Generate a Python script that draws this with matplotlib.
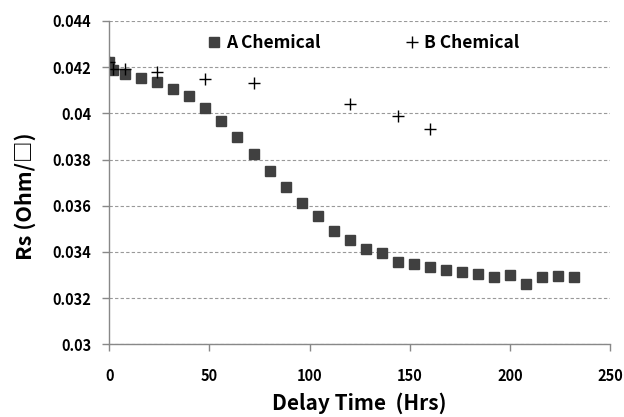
import matplotlib
matplotlib.use("Agg")
import matplotlib.pyplot as plt

plt.rcParams['font.family'] = ['Noto Sans CJK KR', 'DejaVu Sans']

# A Chemical (squares)
a_time = [0, 2, 8, 16, 24, 32, 40, 48, 56, 64, 72, 80, 88, 96, 104, 112, 120, 128,
          136, 144, 152, 160, 168, 176, 184, 192, 200, 208, 216, 224, 232]
a_rs = [0.04222, 0.04188, 0.0417, 0.04152, 0.04137, 0.04107, 0.04075, 0.04022,
        0.03965, 0.03898, 0.03823, 0.03751, 0.03682, 0.03614, 0.03556, 0.0349,
        0.03452, 0.03415, 0.03396, 0.03357, 0.03348, 0.03334, 0.03324, 0.03315,
        0.03305, 0.0329, 0.033, 0.03263, 0.0329, 0.03295, 0.0329]

# B Chemical (plus)
b_time = [0, 2, 8, 24, 48, 72, 120, 144, 160]
b_rs = [0.04224, 0.04192, 0.0419, 0.04178, 0.04148, 0.0413, 0.0404, 0.03987, 0.0393]

x_ticks = [0, 50, 100, 150, 200, 250]
y_ticks = [0.03, 0.032, 0.034, 0.036, 0.038, 0.04, 0.042, 0.044]
y_labels = ['0.03', '0.032', '0.034', '0.036', '0.038', '0.04', '0.042', '0.044']

fig = plt.figure(figsize=(6.24, 4.17), dpi=100)
ax = fig.add_axes([0.175, 0.174, 0.803, 0.776])

ax.plot(a_time, a_rs, linestyle='none', marker='s', markersize=6.5,
        color='#404040', label='A Chemical')
ax.plot(b_time, b_rs, linestyle='none', marker='+', markersize=8,
        markeredgewidth=1, color='black', label='B Chemical')

ax.set_xlim(0, 250)
ax.set_ylim(0.03, 0.044)
ax.set_xticks(x_ticks)
ax.set_yticks(y_ticks)
ax.set_yticklabels(y_labels)
ax.tick_params(axis='both', labelsize=10.5, direction='out', length=5,
               color='#888888', width=1)
ax.tick_params(axis='x', pad=12)
ax.tick_params(axis='y', pad=8)
for lab in ax.get_xticklabels() + ax.get_yticklabels():
    lab.set_fontweight('bold')

ax.grid(axis='y', linestyle=(0, (3, 2)), color='#999999', linewidth=0.8)
ax.set_axisbelow(True)
for side in ['top', 'right']:
    ax.spines[side].set_visible(False)
for side in ['left', 'bottom']:
    ax.spines[side].set_color('#888888')
    ax.spines[side].set_linewidth(1)

ax.set_xlabel('Delay Time  (Hrs)', fontsize=15, fontweight='bold', labelpad=6)
ax.set_ylabel('Rs (Ohm/□)', fontsize=15.5, fontweight='bold')
ax.yaxis.set_label_coords(-0.146, 0.458)

leg = ax.legend(loc='upper left', bbox_to_anchor=(0.16, 1.007), ncol=2,
                frameon=False, fontsize=12.5, handletextpad=0.2,
                columnspacing=4.8, handlelength=1)
for t in leg.get_texts():
    t.set_fontweight('bold')

fig.savefig('out.png', dpi=100)
